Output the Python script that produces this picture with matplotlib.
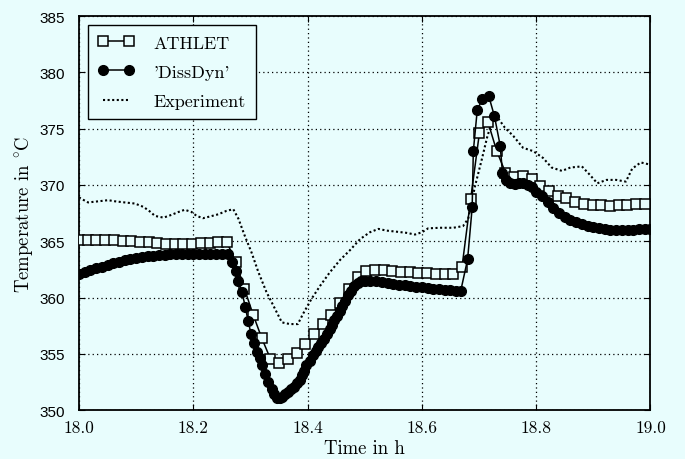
import numpy as np
import matplotlib.pyplot as plt

BG = "#e8fdfd"

# ── data ───────────────────────────────────────────────────────
x_ticks = [18.0, 18.2, 18.4, 18.6, 18.8, 19.0]
x_labels = ["18.0", "18.2", "18.4", "18.6", "18.8", "19.0"]
y_ticks = [350, 355, 360, 365, 370, 375, 380, 385]
y_labels = ["350", "355", "360", "365", "370", "375", "380", "385"]

# ATHLET output, sampled on a regular grid
athlet_t = np.linspace(18.0, 18.99, 66)
athlet_T = [
    365.15, 365.15, 365.15, 365.1, 365.1, 365.05, 365.0, 364.95, 364.9,
    364.85, 364.8, 364.8, 364.8, 364.8, 364.85, 364.85, 364.9,
    364.9, 363.2, 360.8, 358.5, 356.4, 354.55, 354.2, 354.55, 355.1,
    355.9, 356.8, 357.7, 358.5, 359.5, 360.8, 361.8, 362.4,
    362.45, 362.45, 362.4, 362.3, 362.25, 362.2, 362.2, 362.1, 362.1, 362.1,
    362.7, 368.75, 374.6, 375.55,
    373.0, 371.1, 370.75, 370.8, 370.5, 369.9, 369.45, 369.0, 368.8,
    368.5, 368.3, 368.25, 368.2, 368.15, 368.2, 368.2, 368.3, 368.35,
]

dissdyn_t = [
    18.00, 18.01, 18.02, 18.03, 18.04, 18.05, 18.06, 18.07, 18.08, 18.09,
    18.10, 18.11, 18.12, 18.13, 18.14, 18.15, 18.16, 18.17, 18.18, 18.19,
    18.20, 18.21, 18.22, 18.23, 18.24, 18.25, 18.26,
    18.268, 18.274, 18.279, 18.285, 18.291, 18.296, 18.301, 18.306, 18.311,
    18.316, 18.321, 18.326, 18.331, 18.337, 18.342, 18.346, 18.351, 18.356,
    18.361, 18.366, 18.371, 18.376, 18.381, 18.386, 18.390, 18.394, 18.398,
    18.404, 18.410, 18.415, 18.419, 18.424, 18.429, 18.434, 18.439, 18.443,
    18.447, 18.452, 18.457, 18.461, 18.465, 18.470, 18.476, 18.482, 18.488,
    18.494,
    18.50, 18.51, 18.52, 18.53, 18.54, 18.55, 18.56, 18.57, 18.58, 18.59,
    18.60, 18.61, 18.62, 18.63, 18.64, 18.65, 18.66,
    18.668, 18.680, 18.688, 18.690, 18.697, 18.706, 18.717, 18.727, 18.737,
    18.741, 18.748, 18.755, 18.763, 18.770, 18.777, 18.785, 18.792,
    18.80, 18.81, 18.82, 18.83, 18.84, 18.85, 18.86, 18.87, 18.88, 18.89,
    18.90, 18.91, 18.92, 18.93, 18.94, 18.95, 18.96, 18.97, 18.98, 18.99,
    19.00,
]
dissdyn_T = [
    362.1, 362.3, 362.45, 362.6, 362.75, 362.9, 363.05, 363.2, 363.3, 363.4,
    363.5, 363.6, 363.65, 363.7, 363.75, 363.8, 363.85, 363.85, 363.9, 363.9,
    363.9, 363.9, 363.9, 363.9, 363.9, 363.9, 363.85,
    363.2, 362.4, 361.5, 360.5, 359.2, 357.9, 356.8, 356.0, 355.2,
    354.6, 354.0, 353.2, 352.5, 351.9, 351.4, 351.1, 351.05, 351.2,
    351.4, 351.6, 351.85, 352.1, 352.4, 352.7, 353.1, 353.5, 354.0,
    354.4, 354.9, 355.3, 355.6, 356.0, 356.35, 356.8, 357.2, 357.6,
    358.0, 358.4, 358.8, 359.25, 359.7, 360.2, 360.6, 361.0, 361.3,
    361.45,
    361.5, 361.5, 361.45, 361.4, 361.3, 361.2, 361.15, 361.1, 361.0, 360.95,
    360.9, 360.85, 360.8, 360.75, 360.7, 360.65, 360.6,
    360.6, 363.4, 368.0, 373.0, 376.7, 377.6, 377.9, 376.1, 373.5,
    371.1, 370.4, 370.2, 370.1, 370.2, 370.2, 370.0, 369.8,
    369.4, 369.0, 368.5, 367.95, 367.5, 367.2, 366.9, 366.7, 366.5, 366.4,
    366.25, 366.15, 366.05, 366.0, 366.0, 366.0, 366.0, 366.0, 366.05, 366.05,
    366.05,
]

exp_t = [
    18.000, 18.005, 18.016, 18.034, 18.051, 18.063, 18.080, 18.098, 18.113,
    18.124, 18.133, 18.148, 18.162, 18.174, 18.185, 18.197, 18.206, 18.217,
    18.229, 18.244, 18.258, 18.270, 18.279, 18.290, 18.302, 18.314, 18.328,
    18.343, 18.355, 18.369, 18.383, 18.392, 18.407, 18.422, 18.439, 18.457,
    18.474, 18.492, 18.509, 18.524, 18.538, 18.556, 18.573, 18.588, 18.600,
    18.611, 18.632, 18.655, 18.672, 18.681, 18.693, 18.705, 18.714, 18.722,
    18.731, 18.745, 18.760, 18.777, 18.795, 18.812, 18.827, 18.845, 18.860,
    18.880, 18.893, 18.907, 18.923, 18.940, 18.957, 18.968, 18.983, 19.000,
]
exp_T = [
    368.9, 368.75, 368.45, 368.55, 368.65, 368.55, 368.45, 368.35, 368.05,
    367.65, 367.25, 367.1, 367.35, 367.6, 367.8, 367.6, 367.25, 367.05,
    367.2, 367.4, 367.7, 367.85, 367.0, 365.5, 364.0, 362.25, 360.5,
    359.0, 357.8, 357.65, 357.65, 358.55, 359.9, 361.05, 362.25, 363.35,
    364.2, 365.2, 365.8, 366.1, 365.95, 365.85, 365.75, 365.6, 365.8,
    366.15, 366.2, 366.2, 366.35, 367.0, 369.9, 372.3, 374.2, 375.55,
    376.1, 375.1, 374.35, 373.3, 373.0, 372.4, 371.55, 371.25, 371.55,
    371.65, 370.95, 370.15, 370.45, 370.45, 370.3, 371.45, 372.0, 371.8,
]

# ── style ──────────────────────────────────────────────────────
plt.rcParams["font.family"] = ["cmr10", "DejaVu Serif"]
plt.rcParams["mathtext.fontset"] = "cm"
plt.rcParams["axes.unicode_minus"] = False

fig = plt.figure(figsize=(6.85, 4.6), dpi=100, facecolor=BG)
ax = fig.add_axes([0.1153, 0.106, 0.8343, 0.857], facecolor=BG)

ax.plot(exp_t, exp_T, color="black", lw=1.5, ls=(0, (1, 1.2)),
        label="Experiment", zorder=2)
ax.plot(athlet_t, athlet_T, color="black", lw=1.1, marker="s", ms=6.8,
        mfc=BG, mec="black", mew=1.1, label="ATHLET", zorder=3)
ax.plot(dissdyn_t, dissdyn_T, color="black", lw=1.1, marker="o", ms=7.0,
        mfc="black", mec="black", label="'DissDyn'", zorder=4)

ax.set_xlim(18.0, 19.0)
ax.set_ylim(350, 385)
ax.set_xticks(x_ticks)
ax.set_xticklabels(x_labels, fontsize=12.5, family=["cmr10", "DejaVu Serif"])
ax.set_yticks(y_ticks)
ax.set_yticklabels(y_labels, fontsize=11, family="Liberation Sans")
ax.tick_params(direction="in", top=True, right=True, length=4, width=0.8)
ax.tick_params(axis="x", pad=7)
ax.tick_params(axis="y", pad=10)

ax.grid(True, color="black", lw=0.9, ls=(0, (1, 2.5)))
for sp in ax.spines.values():
    sp.set_linewidth(1.3)

ax.set_xlabel("Time in h", fontsize=13.5, labelpad=3)
ax.set_ylabel("Temperature in $^{\\circ}$C", fontsize=13.5, labelpad=3)

handles, labels = ax.get_legend_handles_labels()
order = [1, 2, 0]
leg = ax.legend([handles[i] for i in order], [labels[i] for i in order],
                loc="upper left", fontsize=13, numpoints=2, fancybox=False,
                edgecolor="black", facecolor=BG, framealpha=1,
                handlelength=2.0, handletextpad=1.1, labelspacing=0.75,
                borderpad=0.55, borderaxespad=0.5)
leg.get_frame().set_linewidth(1.0)

fig.savefig("out.png", dpi=100, facecolor=BG)
